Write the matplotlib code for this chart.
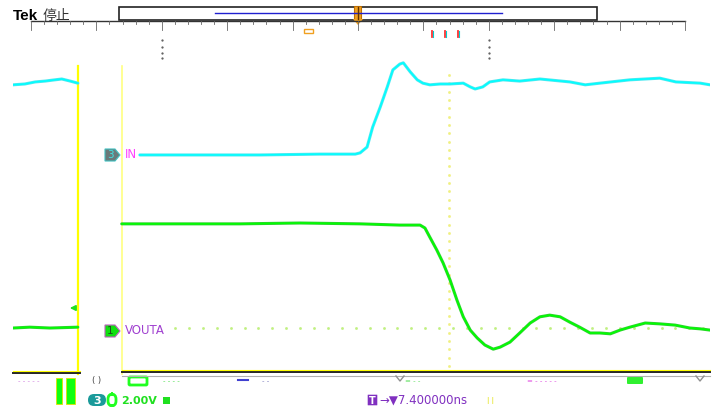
import numpy as np
import matplotlib.pyplot as plt
from matplotlib.patches import Rectangle, Polygon, FancyBboxPatch

# ----------------------------------------------------------------------------
# Trace data (screen divisions: x 0..10, y 0..8)
# ----------------------------------------------------------------------------
ch3_left_t = [0.00, 0.17, 0.32, 0.46, 0.60, 0.70, 0.82, 0.93]
ch3_left_v = [6.92, 6.94, 6.99, 7.01, 7.04, 7.06, 7.01, 6.96]

ch3_t = [1.82, 2.68, 3.54, 4.40, 4.91, 4.98, 5.08, 5.16, 5.27, 5.37, 5.45, 5.55,
         5.60, 5.70, 5.80, 5.88, 5.98, 6.13, 6.27, 6.46, 6.56, 6.63, 6.74, 6.84,
         7.03, 7.27, 7.56, 7.99, 8.21, 8.42, 8.85, 9.28, 9.51, 9.86, 10.0]
ch3_v = [5.23, 5.23, 5.23, 5.25, 5.25, 5.28, 5.42, 5.90, 6.39, 6.87, 7.28, 7.42,
         7.45, 7.23, 7.04, 6.96, 6.92, 6.94, 6.94, 6.96, 6.87, 6.82, 6.87, 6.99,
         7.04, 7.01, 7.06, 6.99, 6.92, 6.96, 7.04, 7.08, 6.99, 6.96, 6.92]

ch1_left_t = [0.00, 0.24, 0.53, 0.93]
ch1_left_v = [1.06, 1.08, 1.06, 1.08]

ch1_t = [1.56, 2.40, 3.26, 4.12, 4.98, 5.55, 5.84, 5.91, 5.98, 6.08, 6.17, 6.27,
         6.37, 6.46, 6.56, 6.66, 6.77, 6.89, 6.99, 7.13, 7.27, 7.42, 7.56, 7.70,
         7.85, 7.99, 8.13, 8.28, 8.42, 8.57, 8.71, 8.85, 9.07, 9.28, 9.50, 9.71,
         9.86, 10.0]
ch1_v = [3.57, 3.57, 3.57, 3.59, 3.57, 3.54, 3.54, 3.47, 3.25, 2.94, 2.63, 2.22,
         1.73, 1.33, 1.01, 0.82, 0.65, 0.55, 0.60, 0.72, 0.94, 1.18, 1.33, 1.37,
         1.33, 1.20, 1.08, 0.94, 0.94, 0.92, 1.01, 1.08, 1.18, 1.16, 1.13, 1.06,
         1.04, 1.01]

ch3_name = 'IN'
ch1_name = 'VOUTA'
scale_text = '2.00V'
trig_text = '7.400000ns'

W, H = 721, 407
fig = plt.figure(figsize=(W / 100, H / 100), dpi=100)
fig.patch.set_facecolor('white')

# overlay in pixel coordinates for the scope furniture
ov = fig.add_axes([0, 0, 1, 1])
ov.set_xlim(0, W)
ov.set_ylim(H, 0)
ov.axis('off')

# trace area
x0, x1, ytop, ybot = 13, 710, 40, 372
ax = fig.add_axes([x0 / W, (H - ybot) / H, (x1 - x0) / W, (ybot - ytop) / H])
ax.set_xlim(0, 10)
ax.set_ylim(0, 8)
ax.axis('off')
ax.patch.set_alpha(0)

# ---------------------------------------------------------------- header
ov.text(13, 16, 'Tek', fontsize=11, fontweight='bold', va='center', ha='left',
        family='Liberation Sans', color='black')
ov.text(43, 16, '停止', fontsize=10, va='center', ha='left',
        family=['Noto Sans CJK SC', 'DejaVu Sans'], color='#333333')

ov.add_patch(Rectangle((119, 7), 478, 13, fill=False, ec='#222222', lw=1.2))
ov.plot([215, 502], [13, 13], color='#2020d0', lw=1)
ov.plot([31, 685], [21, 21], color='#333333', lw=1)
for i in range(51):
    xt = 31 + i * 654 / 50
    ln = 9 if i % 5 == 0 else 3
    ov.plot([xt, xt], [21, 21 + ln], color='#666666', lw=0.6)

# trigger marker
ov.add_patch(FancyBboxPatch((355, 7), 6, 12, boxstyle='round,pad=0.5',
                            fc='#f0a020', ec='#c07000', lw=0.8))
ov.plot([358, 358], [7, 19], color='#603000', lw=1)
ov.add_patch(Polygon([[353, 19], [363, 19], [358, 25]], closed=True,
                     fc='#f0a020', ec='none'))
ov.add_patch(Rectangle((304, 29), 9, 4, fill=False, ec='#f0a020', lw=1))
for xm in [432, 445, 458]:
    ov.plot([xm, xm], [31, 37], color='#ff3030', lw=1.3)
    ov.plot([xm + 1, xm + 1], [31, 37], color='#00d0d0', lw=0.8)
for xd in [162, 489]:
    ov.plot([xd] * 4, [40, 47, 53, 58], ls='none', marker='.', ms=1.2,
            color='#555555')

# ---------------------------------------------------------------- cursors
ov.plot([78, 78], [66, 374], color='#ffff00', lw=1.6)
ov.plot([122, 122], [66, 374], color='#ffff80', lw=1.2)
ov.plot([449] * 36, np.linspace(75, 366, 36), ls='none', marker='s', ms=0.9,
        color='#f0f080')
hx = np.arange(175, 710, 13.9)
ov.plot(hx, [328] * len(hx), ls='none', marker='s', ms=0.9, color='#c0f080')

# bottom edge
ov.plot([13, 80], [373, 373], color='#222222', lw=1.4)
ov.plot([122, 710], [372, 372], color='#222222', lw=1.4)
ov.plot([13, 80], [371, 371], color='#ffff00', lw=0.8)
ov.plot([122, 710], [370, 370], color='#ffff00', lw=0.8)
ov.plot([122, 710], [376, 376], color='#b0b0b0', lw=0.8)
for xv in [400, 700]:
    ov.plot([xv - 4, xv, xv + 4], [376, 381, 376], color='#909090', lw=1)

# ---------------------------------------------------------------- traces
for t, v, edge, core in [(ch3_left_t, ch3_left_v, '#50e8f0', '#00ffff'),
                         (ch3_t, ch3_v, '#50e8f0', '#00ffff'),
                         (ch1_left_t, ch1_left_v, '#30d030', '#00ff00'),
                         (ch1_t, ch1_v, '#30d030', '#00ff00')]:
    ax.plot(t, v, color=edge, lw=2.2, solid_capstyle='round')
    ax.plot(t, v, color=core, lw=1.1)

# ---------------------------------------------------------------- channel tags
ov.add_patch(Polygon([[105, 149], [115, 149], [120, 155], [115, 161], [105, 161]],
                     closed=True, fc='#6a7a7a', ec='#40c0c0', lw=0.8))
ov.text(110, 155.5, '3', fontsize=7.5, color='#40e0e0', ha='center', va='center')
ov.text(125, 155, ch3_name, fontsize=8.5, color='#ff40ff', ha='left', va='center')

ov.add_patch(Polygon([[105, 325], [115, 325], [120, 331], [115, 337], [105, 337]],
                     closed=True, fc='#10e010', ec='#c060c0', lw=0.8))
ov.text(110, 331.5, '1', fontsize=7.5, color='#205020', ha='center', va='center')
ov.text(125, 331, ch1_name, fontsize=8.5, color='#a040d0', ha='left', va='center')

ov.annotate('', xy=(67, 308), xytext=(78, 308),
            arrowprops=dict(arrowstyle='-|>', color='#20e020', lw=1.2,
                            mutation_scale=8))

# ---------------------------------------------------------------- footer
ov.add_patch(Rectangle((56, 378), 6, 26, fc='#10ff10', ec='#e0e000', lw=0.6))
ov.add_patch(Rectangle((66, 378), 9, 26, fc='#10ff10', ec='#e0e000', lw=0.6))
ov.text(18, 381, '- - - - -', fontsize=5, color='#d080e0', va='center')
ov.text(92, 381, '( )', fontsize=6, color='#404040', va='center')
ov.add_patch(FancyBboxPatch((130, 378), 16, 6, boxstyle='round,pad=1',
                            fc='none', ec='#20ff20', lw=2))
ov.text(163, 381, '- - - -', fontsize=5, color='#50e050', va='center')
ov.plot([238, 248], [380, 380], color='#4040d0', lw=1.5)
ov.text(262, 381, '- -', fontsize=5, color='#8080c0', va='center')
ov.text(405, 381, '= - -', fontsize=5, color='#60e060', va='center')
ov.text(527, 381, '= - - - - -', fontsize=5, color='#e050e0', va='center')
ov.add_patch(FancyBboxPatch((628, 378), 14, 5, boxstyle='round,pad=1',
                            fc='#30f030', ec='none'))

ov.add_patch(FancyBboxPatch((88, 394), 18, 12, boxstyle='round,pad=0,rounding_size=6',
                            fc='#1a9a9a', ec='none'))
ov.text(97, 400.5, '3', fontsize=8, color='white', ha='center', va='center',
        fontweight='bold')
ov.add_patch(FancyBboxPatch((108, 394), 8, 12, boxstyle='round,pad=0,rounding_size=5',
                            fc='none', ec='#20ff20', lw=2))
ov.text(121, 400.5, scale_text, fontsize=8, color='#20e020', ha='left',
        va='center', fontweight='bold')
ov.add_patch(Rectangle((163, 397), 7, 7, fc='#20e020', ec='none'))

ov.add_patch(FancyBboxPatch((368, 395), 9, 10, boxstyle='round,pad=0.3',
                            fc='#8030c0', ec='none'))
ov.text(372.5, 400.5, 'T', fontsize=7, color='white', ha='center', va='center',
        fontweight='bold')
ov.text(379, 400.5, '→▼' + trig_text, fontsize=8.5, color='#8030c0',
        ha='left', va='center')
ov.text(487, 401, '| |', fontsize=5, color='#e0e000', va='center')

fig.savefig('out.png', dpi=100, facecolor='white')
